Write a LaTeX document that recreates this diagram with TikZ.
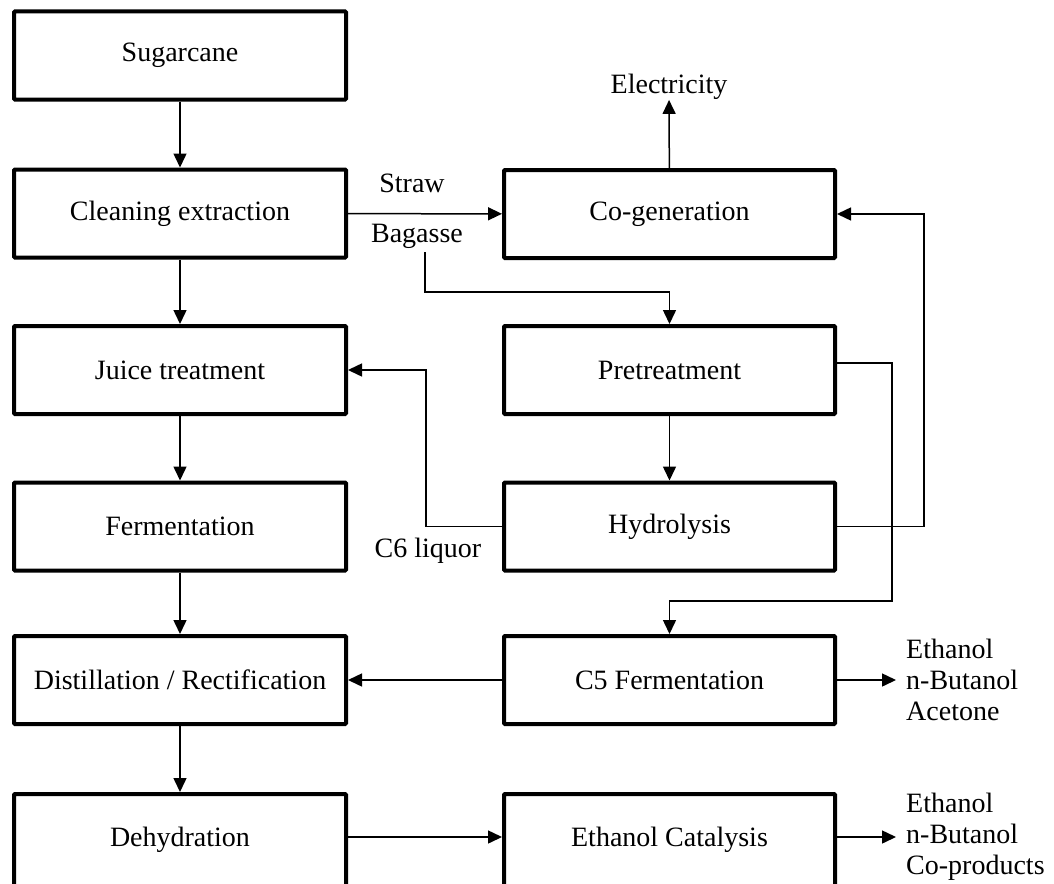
\documentclass[tikz,border=0pt]{standalone}
\usepackage{fontspec}
\setmainfont{Liberation Serif}
\usetikzlibrary{arrows.meta}
\begin{document}
\begin{tikzpicture}[x=1pt,y=-1pt,
  every node/.style={font=\fontsize{28}{31}\selectfont},
  box/.style={draw,line width=4pt,rounded corners=1pt,minimum height=88pt,inner sep=0pt},
  lbox/.style={box,minimum width=332pt},
  rbox/.style={box,minimum width=331pt},
  flow/.style={line width=1.5pt,-{Triangle[length=14pt,width=13pt]}},
  plain/.style={line width=1.5pt},
  lbl/.style={inner sep=0pt}]
\useasboundingbox (0,0) rectangle (1054,883);
\clip (0,0) rectangle (1054,883);

% left column
\node[lbox] (sug)   at (180,55.5)  {Sugarcane};
\node[lbox] (clean) at (180,213.5) {Cleaning extraction};
\node[lbox] (juice) at (180,370)   {Juice treatment};
\node[lbox] (ferm)  at (180,526.5) {Fermentation};
\node[lbox] (dist)  at (180,680)   {Distillation / Rectification};
\node[lbox,minimum height=92pt] (dehyd) at (180,840) {Dehydration};

% right column
\node[rbox] (cogen) at (669.5,214)   {Co-generation};
\node[rbox] (pre)   at (669.5,370)   {Pretreatment};
\node[rbox] (hyd)   at (669.5,526.5) {Hydrolysis};
\node[rbox] (c5)    at (669.5,680)   {C5 Fermentation};
\node[rbox,minimum height=92pt] (cat) at (669.5,840) {Ethanol Catalysis};

% labels and outputs
\node[lbl] (elec)   at (669,87)  {Electricity};
\node[lbl] (straw)  at (412,183) {Straw};
\node[lbl] (bag)    at (417,236) {Bagasse};
\node[lbl] (c6)     at (428,551) {C6 liquor};
\node[anchor=west,align=left,inner sep=10pt] (out1) at (896,680) {Ethanol\\n-Butanol\\Acetone};
\node[anchor=west,align=left,inner sep=10pt] (out2) at (896,837) {Ethanol\\n-Butanol\\Co-products};

% main line
\draw[flow] (sug) -- (clean);
\draw[flow] (clean) -- (juice);
\draw[flow] (juice) -- (ferm);
\draw[flow] (ferm) -- (dist);
\draw[flow] (dist) -- (dehyd);

% biomass streams
\draw[flow] (clean) -- (cogen);
\draw[flow] (cogen) -- (elec);
\coordinate (bagfoot) at (425,252);
\draw[flow] (bagfoot) -- (425,292) -| (pre.north);
\draw[flow] (pre) -- (hyd);
\draw[flow] (hyd.west) -- (426,526.5) |- (juice.east);
\draw[flow] (hyd.east) -- (924,526.5) |- (cogen.east);
\draw[flow] ([yshift=7pt]pre.east) -- (892,363) -- (892,601) -| (c5.north);
\draw[flow] (c5) -- (dist);
\draw[flow] (c5.east) -- (out1.west);
\draw[flow] (dehyd.east |- 0,837) -- (cat.west |- 0,837);
\draw[flow] (cat.east |- 0,837) -- (out2.west |- 0,837);
\end{tikzpicture}
\end{document}
